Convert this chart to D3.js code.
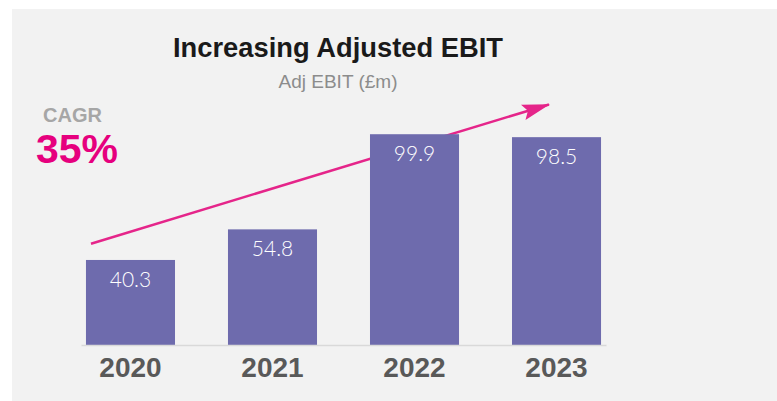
<!DOCTYPE html>
<html>
<head>
<meta charset="utf-8">
<script src="https://cdn.jsdelivr.net/npm/d3@7"></script>
<style>
  body { margin: 0; background: #ffffff; }
  text { font-family: "Liberation Sans", Arial, sans-serif; }
</style>
</head>
<body>
<div id="chart"></div>
<script>
var years = ["2020", "2021", "2022", "2023"],
    ebit = [40.3, 54.8, 99.9, 98.5],
    valueLabels = ["40.3", "54.8", "99.9", "98.5"];

var title = "Increasing Adjusted EBIT",
    subtitle = "Adj EBIT (£m)",
    cagrLabel = "CAGR",
    cagrValue = "35%";

// trend arrow, in data units (from / to)
var trendFrom = 48, trendTo = 114;

var width = 777,
    height = 401;

var x = d3.scaleBand()
    .domain(years)
    .range([81, 606])
    .paddingInner(0.373)
    .paddingOuter(0.035);

var y = d3.scaleLinear()
    .domain([0, 100])
    .range([345, 134]);

var svg = d3.select("#chart").append("svg")
    .attr("width", width)
    .attr("height", height);

svg.append("defs").append("marker")
    .attr("id", "head")
    .attr("viewBox", "0 0 28 16")
    .attr("refX", 27)
    .attr("refY", 8)
    .attr("markerWidth", 28)
    .attr("markerHeight", 16)
    .attr("markerUnits", "userSpaceOnUse")
    .attr("orient", "auto")
  .append("path")
    .attr("d", "M0,0 L28,8 L0,16 L5,8 Z")
    .attr("fill", "#e5258a");

// grey panel
svg.append("rect")
    .attr("x", 12)
    .attr("y", 9)
    .attr("width", width - 12)
    .attr("height", height - 9)
    .attr("fill", "#f2f2f2");

svg.append("text")
    .attr("x", 338)
    .attr("y", 57)
    .attr("text-anchor", "middle")
    .attr("font-size", 27)
    .attr("font-weight", "bold")
    .attr("fill", "#1a1a1a")
    .attr("textLength", 330)
    .attr("lengthAdjust", "spacingAndGlyphs")
    .text(title);

svg.append("text")
    .attr("x", 338)
    .attr("y", 88)
    .attr("text-anchor", "middle")
    .attr("font-size", 19)
    .attr("fill", "#8c8c8c")
    .text(subtitle);

svg.append("text")
    .attr("x", 43)
    .attr("y", 122)
    .attr("font-size", 20)
    .attr("font-weight", "bold")
    .attr("fill", "#a6a6a6")
    .text(cagrLabel);

svg.append("text")
    .attr("x", 36)
    .attr("y", 163)
    .attr("font-size", 41)
    .attr("font-weight", "bold")
    .attr("fill", "#e6007e")
    .text(cagrValue);

// trend arrow (sits behind the bars)
svg.append("line")
    .attr("x1", x(years[0]) + 5)
    .attr("y1", y(trendFrom))
    .attr("x2", x(years[3]) + 37)
    .attr("y2", y(trendTo))
    .attr("stroke", "#e5258a")
    .attr("stroke-width", 2.5)
    .attr("marker-end", "url(#head)");

// bars
svg.selectAll(".bar")
    .data(ebit)
  .enter().append("rect")
    .attr("class", "bar")
    .attr("x", function(d, i) { return x(years[i]); })
    .attr("y", function(d) { return y(d); })
    .attr("width", x.bandwidth())
    .attr("height", function(d) { return y(0) - y(d); })
    .attr("fill", "#6e6bad");

// baseline axis
var xAxis = d3.axisBottom(x).tickSize(0).tickPadding(20);
var gx = svg.append("g")
    .attr("transform", "translate(0," + y(0) + ")")
    .call(xAxis);
gx.select(".domain").attr("stroke", "#d9d9d9").attr("stroke-width", 1.5);
gx.selectAll("text")
    .attr("font-family", "Liberation Sans, Arial, sans-serif")
    .attr("font-size", 28)
    .attr("font-weight", "bold")
    .attr("fill", "#595959")
    .attr("dy", "0.71em")
    .attr("y", 12);

// value labels
svg.selectAll(".val")
    .data(ebit)
  .enter().append("text")
    .attr("class", "val")
    .attr("x", function(d, i) { return x(years[i]) + x.bandwidth() / 2; })
    .attr("y", function(d) { return y(d) + 27; })
    .attr("text-anchor", "middle")
    .style("font-family", "Lato, 'Liberation Sans', sans-serif")
    .attr("font-weight", 300)
    .attr("font-size", 21)
    .attr("fill", "#ffffff")
    .text(function(d, i) { return valueLabels[i]; });
</script>
</body>
</html>
